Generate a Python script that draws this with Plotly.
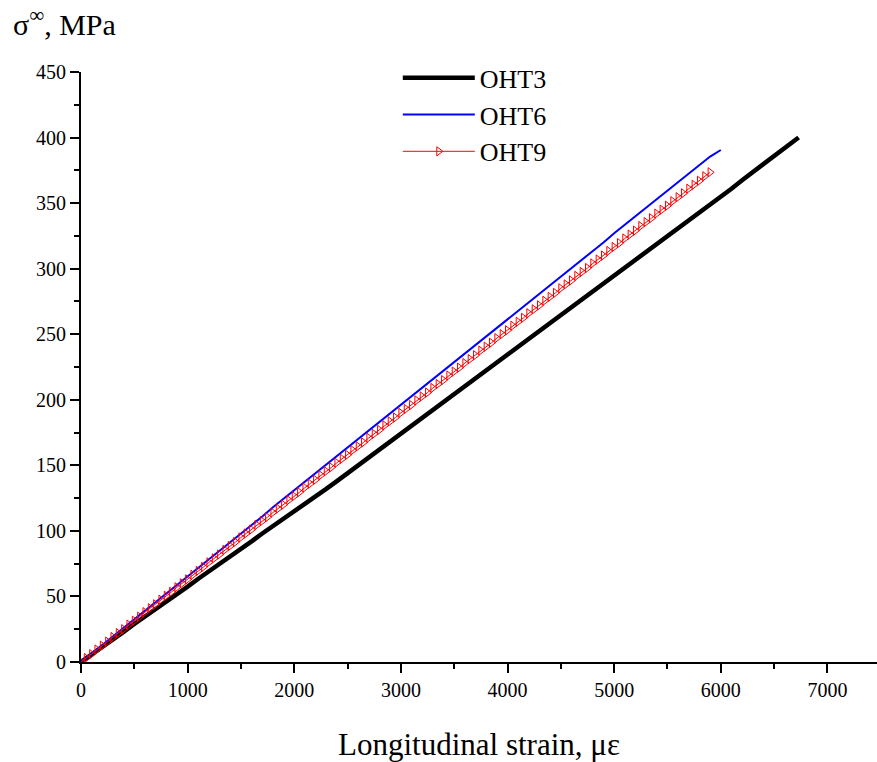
import plotly.graph_objects as go

# ---- data ----
oht3_strain = [0, 100, 200, 300, 400, 500, 600, 700, 800, 900,
               1000, 1100, 1200, 1300, 1400, 1500, 1600, 1700, 1800, 1900,
               2000, 2100, 2200, 2300, 2400, 2500, 2600, 2700, 2800, 2900,
               3000, 3100, 3200, 3300, 3400, 3500, 3600, 3700, 3800, 3900,
               4000, 4100, 4200, 4300, 4400, 4500, 4600, 4700, 4800, 4900,
               5000, 5100, 5200, 5300, 5400, 5500, 5600, 5700, 5800, 5900,
               6000, 6100, 6200, 6300, 6400, 6500, 6600, 6700, 6730]
oht3_stress = [0, 5.5, 11.5, 17.5, 23, 29, 34.5, 40.5, 46, 51.5,
               57.5, 63.5, 69, 75, 80.5, 86.5, 92, 98, 103.5, 109.5,
               115, 121, 126.5, 132, 138, 144, 150, 156, 162, 168.5,
               175, 181, 187, 193, 199, 205, 211, 217, 222.5, 228.5,
               234.5, 240.5, 246.5, 252.5, 258.5, 264.5, 270.5, 276.5, 283, 289,
               295, 301, 307, 313, 319, 325, 331, 337, 343, 349,
               355, 361, 367.5, 373.5, 380, 386, 392, 398.5, 400]

oht6_strain = [0, 100, 200, 300, 400, 500, 600, 700, 800, 900,
               1000, 1100, 1200, 1300, 1400, 1500, 1600, 1700, 1800, 1900,
               2000, 2100, 2200, 2300, 2400, 2500, 2600, 2700, 2800, 2900,
               3000, 3100, 3200, 3300, 3400, 3500, 3600, 3700, 3800, 3900,
               4000, 4100, 4200, 4300, 4400, 4500, 4600, 4700, 4800, 4900,
               5000, 5100, 5200, 5300, 5400, 5500, 5600, 5700, 5800, 5900,
               6000]
oht6_stress = [0, 6.5, 13, 19.5, 26, 32.5, 39, 45.5, 52, 58.5,
               65, 71.5, 78, 84.5, 91, 97.5, 104.5, 111, 118, 124.5,
               131, 137.5, 144, 150.5, 157, 163.5, 170, 176.5, 183, 189.5,
               196, 202.5, 209, 215.5, 222, 228.5, 235, 241.5, 248, 254.5,
               261, 267.5, 274, 280.5, 287, 293.5, 300, 306.5, 313.5, 320,
               327, 333.5, 340.5, 347, 353.5, 360, 366.5, 373, 379.5, 385.5,
               390.5]

oht9_strain = [0, 50, 100, 150, 200, 250, 300, 350, 400, 450,
               500, 550, 600, 650, 700, 750, 800, 850, 900, 950,
               1000, 1050, 1100, 1150, 1200, 1250, 1300, 1350, 1400, 1450,
               1500, 1550, 1600, 1650, 1700, 1750, 1800, 1850, 1900, 1950,
               2000, 2050, 2100, 2150, 2200, 2250, 2300, 2350, 2400, 2450,
               2500, 2550, 2600, 2650, 2700, 2750, 2800, 2850, 2900, 2950,
               3000, 3050, 3100, 3150, 3200, 3250, 3300, 3350, 3400, 3450,
               3500, 3550, 3600, 3650, 3700, 3750, 3800, 3850, 3900, 3950,
               4000, 4050, 4100, 4150, 4200, 4250, 4300, 4350, 4400, 4450,
               4500, 4550, 4600, 4650, 4700, 4750, 4800, 4850, 4900, 4950,
               5000, 5050, 5100, 5150, 5200, 5250, 5300, 5350, 5400, 5450,
               5500, 5550, 5600, 5650, 5700, 5750, 5800, 5850, 5900]
oht9_stress = [0, 3, 6, 9.5, 12.5, 15.5, 19, 22, 25, 28.5,
               31.5, 34.5, 38, 41, 44, 47.5, 50.5, 53.5, 57, 60,
               63, 66.5, 69.5, 72.5, 76, 79, 82, 85.5, 88.5, 91.5,
               95, 98, 101, 104.5, 107.5, 110.5, 114, 117, 120, 123.5,
               126.5, 129.5, 133, 136, 139, 142.5, 145.5, 148.5, 152, 155,
               158, 161.5, 164.5, 167.5, 171, 174, 177, 180.5, 183.5, 186.5,
               190, 193, 196, 199.5, 202.5, 205.5, 209, 212, 215, 218.5,
               221.5, 224.5, 228, 231, 234, 237.5, 240.5, 243.5, 247, 250,
               253, 256.5, 259.5, 262.5, 266, 269, 272, 275.5, 278.5, 281.5,
               285, 288, 291, 294.5, 297.5, 300.5, 304, 307, 310, 313.5,
               316.5, 319.5, 323, 326, 329, 332.5, 335.5, 338.5, 342, 345,
               348, 351.5, 354.5, 357.5, 361, 364, 367, 370.5, 373.5]

x_ticks = [0, 1000, 2000, 3000, 4000, 5000, 6000, 7000]
y_ticks = [0, 50, 100, 150, 200, 250, 300, 350, 400, 450]

FONT = "Liberation Serif, 'DejaVu Serif', Times New Roman, serif"

fig = go.Figure()
fig.add_trace(go.Scatter(x=oht3_strain, y=oht3_stress, mode="lines", name="OHT3",
                         legendgroup="a",
                         line=dict(color="black", width=4.5)))
fig.add_trace(go.Scatter(x=oht6_strain, y=oht6_stress, mode="lines", name="OHT6",
                         legendgroup="b",
                         line=dict(color="#0000ff", width=2)))
fig.add_trace(go.Scatter(x=oht9_strain, y=oht9_stress, mode="lines+markers", name="OHT9",
                         legendgroup="c",
                         line=dict(color="#ff0000", width=1),
                         marker=dict(symbol="triangle-right-open", size=8,
                                     color="#ff0000", line=dict(width=1))))

fig.update_layout(
    width=877, height=762,
    margin=dict(l=81, r=0, t=72, b=100),
    paper_bgcolor="white", plot_bgcolor="white",
    font=dict(family=FONT, color="black", size=20),
    showlegend=True,
    legend=dict(x=0.398, y=1.03, xanchor="left", yanchor="top",
                font=dict(family=FONT, size=26, color="black"),
                bgcolor="rgba(0,0,0,0)", itemwidth=72, tracegroupgap=0),
    xaxis=dict(range=[0, 7465], tickvals=x_ticks, ticks="outside", ticklen=9,
               tickwidth=1.5, tickcolor="black", showline=True, linewidth=2,
               linecolor="black", showgrid=False, zeroline=False,
               tickfont=dict(family=FONT, size=20),
               minor=dict(dtick=500, tick0=0, ticks="outside", ticklen=5,
                          tickwidth=1.5, tickcolor="black", showgrid=False),
               title=dict(text="Longitudinal strain, με",
                          font=dict(family=FONT, size=31), standoff=33)),
    yaxis=dict(range=[0, 450], tickvals=y_ticks, ticks="outside", ticklen=9,
               tickwidth=1.5, tickcolor="black", showline=True, linewidth=2,
               linecolor="black", showgrid=False, zeroline=False,
               tickfont=dict(family=FONT, size=20),
               minor=dict(dtick=25, tick0=0, ticks="outside", ticklen=5,
                          tickwidth=1.5, tickcolor="black", showgrid=False)),
)

fig.add_annotation(text="σ<sup>∞</sup>, MPa", xref="paper", yref="paper",
                   x=-0.0885, y=1.085, xanchor="left", yanchor="middle",
                   showarrow=False, font=dict(family=FONT, size=30, color="black"))

fig.write_html("out.html", config={"displayModeBar": False},
               post_script="document.body.style.margin='0';document.body.style.padding='0';")
